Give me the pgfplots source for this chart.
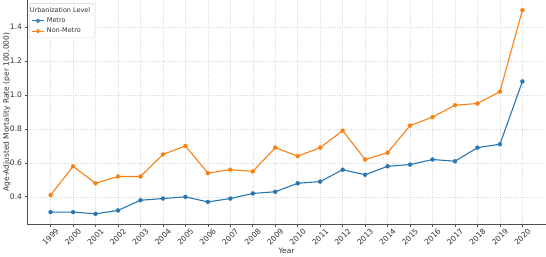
\documentclass[border=0pt]{standalone}
\usepackage{pgfplots}
\pgfplotsset{compat=1.18}
\usepackage{fontspec}
\setmainfont{DejaVu Sans}

\definecolor{metro}{RGB}{40,118,178}
\definecolor{nonmetro}{RGB}{250,128,20}
\definecolor{spine}{RGB}{80,80,80}
\definecolor{txt}{RGB}{50,50,50}

% Age-adjusted mortality rate by urbanization level, 1999--2020
\pgfplotstableread{
year metro nonmetro
1999 0.31 0.41
2000 0.31 0.58
2001 0.30 0.48
2002 0.32 0.52
2003 0.38 0.52
2004 0.39 0.65
2005 0.40 0.70
2006 0.37 0.54
2007 0.39 0.56
2008 0.42 0.55
2009 0.43 0.69
2010 0.48 0.64
2011 0.49 0.69
2012 0.56 0.79
2013 0.53 0.62
2014 0.58 0.66
2015 0.59 0.82
2016 0.62 0.87
2017 0.61 0.94
2018 0.69 0.95
2019 0.71 1.02
2020 1.08 1.50
}\ratesdata

\begin{document}
\begin{tikzpicture}
\begin{axis}[
  scale only axis,
  width=519bp, height=224bp,
  xmin=1997.95, xmax=2021.05,
  ymin=0.24, ymax=1.56,
  axis lines*=left,
  axis line style={spine, line width=0.9bp},
  tick style={spine, line width=0.7bp},
  tick align=outside,
  major tick length=2.5bp,
  xtick={1999,2000,...,2020},
  ytick={0.4,0.6,0.8,1.0,1.2,1.4},
  grid=major,
  grid style={gray!25, line width=0.5bp, dash pattern=on 1.2bp off 1bp},
  tick label style={font=\fontsize{7.6}{9}\selectfont, text=txt},
  /pgf/number format/assume math mode=true,
  x tick label style={rotate=45, anchor=center, /pgf/number format/1000 sep={}},
  xticklabel shift=10.5bp,
  y tick label style={/pgf/number format/.cd, fixed, fixed zerofill, precision=1},
  yticklabel shift=-1bp,
  label style={font=\fontsize{7.5}{9}\selectfont, text=txt},
  xlabel={Year},
  ylabel={Age-Adjusted Mortality Rate (per 100,000)},
  xlabel style={at={(axis description cs:0.5,-0.12)}, anchor=center},
  ylabel style={at={(axis description cs:-0.039,0.5)}, anchor=center},
  legend style={
    at={(axis description cs:0.004,0.985)}, anchor=north west,
    font=\fontsize{6.5}{7.6}\selectfont, text=txt,
    draw=gray!35, rounded corners=2bp, fill=white, fill opacity=0.85, text opacity=1,
    inner sep=1.8bp, row sep=0bp,
  },
  legend cell align=left,
  legend image post style={xscale=0.75},
]
\addlegendimage{empty legend}
\addlegendentry{\hspace{-17bp}Urbanization Level}
\addplot[color=metro, line width=1.1bp, mark=*, mark size=2bp, mark options={line width=0.3bp}] table[x=year, y=metro] {\ratesdata};
\addlegendentry{Metro}
\addplot[color=nonmetro, line width=1.1bp, mark=*, mark size=2bp, mark options={line width=0.3bp}] table[x=year, y=nonmetro] {\ratesdata};
\addlegendentry{Non-Metro}
\end{axis}
\pgfresetboundingbox
\path (-27bp,-33bp) rectangle (519bp,224bp);
\end{tikzpicture}
\end{document}
